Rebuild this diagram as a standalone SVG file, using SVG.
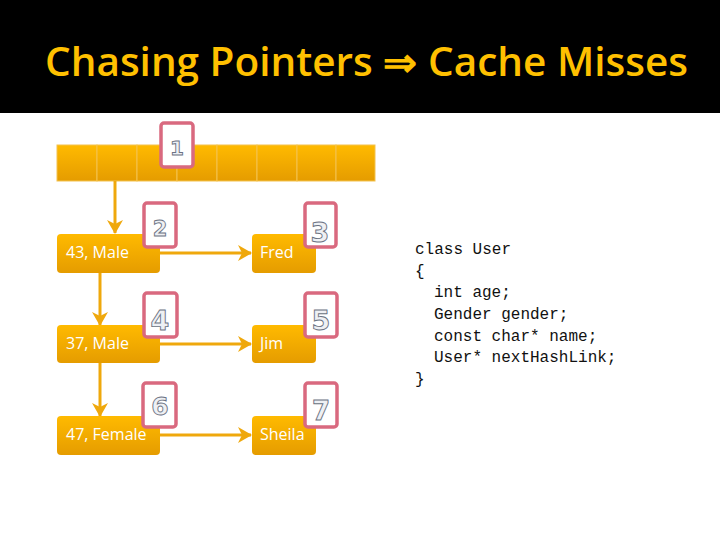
<svg xmlns="http://www.w3.org/2000/svg" width="720" height="540" viewBox="0 0 720 540">
<defs>
<linearGradient id="og" x1="0" y1="0" x2="0" y2="1">
<stop offset="0" stop-color="#FFBA00"/>
<stop offset="1" stop-color="#E59C00"/>
</linearGradient>
<marker id="ah" viewBox="0 0 14 16" refX="13" refY="8" markerWidth="14" markerHeight="16" markerUnits="userSpaceOnUse" orient="auto">
<path d="M0,0 L14,8 L0,16 L4,8 Z" fill="#EFA80C"/>
</marker>
<style>
.node{fill:url(#og);}
.nt{font-family:"Open Sans","Liberation Sans",sans-serif;font-size:16px;fill:#FFFFFF;}
.tag{fill:#FFFFFF;stroke:#D9697F;stroke-width:3.5;}
.num{font-family:"DejaVu Sans","Liberation Sans",sans-serif;font-weight:bold;fill:#EEF0F4;stroke:#6B7282;stroke-width:0.9;text-anchor:middle;}
.conn{stroke:#EFA80C;stroke-width:3;fill:none;}
.code{font-family:"Liberation Mono",monospace;font-size:16px;fill:#111111;}
.cell{fill:url(#og);stroke:#F3C24E;stroke-width:1;}
</style>
</defs>
<rect x="0" y="0" width="720" height="540" fill="#FFFFFF"/>
<rect x="0" y="0" width="720" height="113" fill="#000000"/>
<text x="45" y="76" font-family="Open Sans, Liberation Sans, sans-serif" font-size="39" font-weight="600" fill="#FFC000" textLength="643" lengthAdjust="spacingAndGlyphs">Chasing Pointers ⇒ Cache Misses</text>

<g id="hashtable">
<rect class="cell" x="57" y="145" width="40" height="36"/>
<rect class="cell" x="97" y="145" width="40" height="36"/>
<rect class="cell" x="137" y="145" width="40" height="36"/>
<rect class="cell" x="177" y="145" width="40" height="36"/>
<rect class="cell" x="217" y="145" width="40" height="36"/>
<rect class="cell" x="257" y="145" width="40" height="36"/>
<rect class="cell" x="297" y="145" width="39" height="36"/>
<rect class="cell" x="336" y="145" width="39" height="36"/>
</g>

<g id="connectors">
<line class="conn" x1="115" y1="181" x2="115" y2="233" marker-end="url(#ah)"/>
<line class="conn" x1="100" y1="273" x2="100" y2="325" marker-end="url(#ah)"/>
<line class="conn" x1="100" y1="363" x2="100" y2="416" marker-end="url(#ah)"/>
<line class="conn" x1="160" y1="253" x2="251" y2="253" marker-end="url(#ah)"/>
<line class="conn" x1="160" y1="344" x2="251" y2="344" marker-end="url(#ah)"/>
<line class="conn" x1="160" y1="435" x2="251" y2="435" marker-end="url(#ah)"/>
</g>

<g id="node-43male">
<rect class="node" x="57" y="234" width="103" height="39" rx="4"/>
<text class="nt" x="66" y="258">43, Male</text>
</g>
<g id="node-fred">
<rect class="node" x="252" y="234" width="64" height="39" rx="4"/>
<text class="nt" x="260" y="258">Fred</text>
</g>
<g id="node-37male">
<rect class="node" x="57" y="325" width="103" height="38" rx="4"/>
<text class="nt" x="66" y="349">37, Male</text>
</g>
<g id="node-jim">
<rect class="node" x="252" y="325" width="64" height="38" rx="4"/>
<text class="nt" x="260" y="349">Jim</text>
</g>
<g id="node-47female">
<rect class="node" x="57" y="416" width="103" height="39" rx="4"/>
<text class="nt" x="66" y="440">47, Female</text>
</g>
<g id="node-sheila">
<rect class="node" x="252" y="416" width="64" height="39" rx="4"/>
<text class="nt" x="260" y="440">Sheila</text>
</g>

<g id="tag1"><rect class="tag" x="161" y="123" width="32" height="44" rx="3"/><text class="num" x="177" y="155" font-size="20">1</text></g>
<g id="tag2"><rect class="tag" x="144" y="203" width="32" height="44" rx="3"/><text class="num" x="160" y="236" font-size="21">2</text></g>
<g id="tag3"><rect class="tag" x="305" y="203" width="31" height="44" rx="3"/><text class="num" x="320" y="242" font-size="27">3</text></g>
<g id="tag4"><rect class="tag" x="144" y="293" width="33" height="44" rx="3"/><text class="num" x="160" y="330" font-size="27">4</text></g>
<g id="tag5"><rect class="tag" x="305" y="293" width="32" height="44" rx="3"/><text class="num" x="321" y="330" font-size="27">5</text></g>
<g id="tag6"><rect class="tag" x="143" y="383" width="33" height="44" rx="3"/><text class="num" x="160" y="415" font-size="25">6</text></g>
<g id="tag7"><rect class="tag" x="305" y="383" width="32" height="44" rx="3"/><text class="num" x="321" y="420" font-size="26">7</text></g>

<g id="code">
<text class="code" x="415" y="254">class User</text>
<text class="code" x="415" y="276">{</text>
<text class="code" x="434" y="297">int age;</text>
<text class="code" x="434" y="319">Gender gender;</text>
<text class="code" x="434" y="341">const char* name;</text>
<text class="code" x="434" y="362">User* nextHashLink;</text>
<text class="code" x="415" y="384">}</text>
</g>
</svg>
